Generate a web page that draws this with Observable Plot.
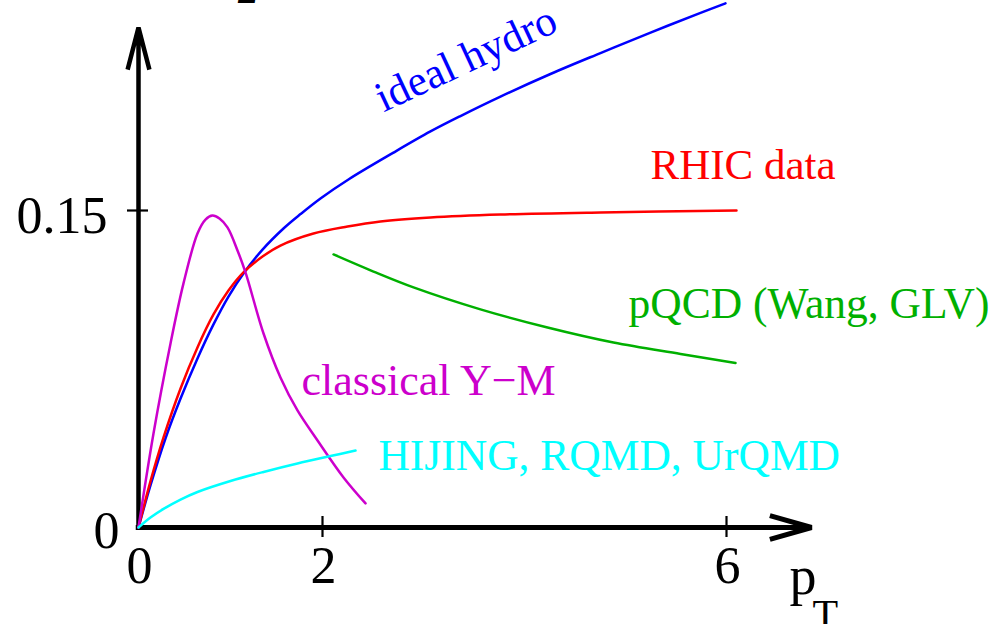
<!DOCTYPE html>
<html>
<head>
<meta charset="utf-8">
<script src="https://cdn.jsdelivr.net/npm/d3@7"></script>
<script src="https://cdn.jsdelivr.net/npm/@observablehq/plot@0.6"></script>
<style>
  html, body { margin: 0; padding: 0; background: #fff; }
  #chart svg { display: block; }
  #chart svg text { font-family: "Liberation Serif", "Times New Roman", serif; }
</style>
</head>
<body>
<div id="chart"></div>
<script>
// ---- data ----
const hydroPt = [0, 0.130, 0.293, 0.457, 0.641, 0.815, 0.978, 1.141, 1.348, 1.576, 1.761, 1.978, 2.257, 2.703, 3.069, 3.366, 3.762, 4.257, 4.752, 5.248, 5.743, 5.990];
const hydroV2 = [0, 0.0199, 0.0421, 0.0610, 0.0800, 0.0961, 0.1093, 0.1202, 0.1315, 0.1415, 0.1483, 0.1557, 0.1647, 0.1774, 0.1874, 0.1947, 0.2039, 0.2146, 0.2245, 0.2342, 0.2435, 0.2480];

const rhicPt = [0, 0.130, 0.272, 0.457, 0.641, 0.815, 0.978, 1.141, 1.348, 1.543, 1.902, 2.248, 2.574, 3.069, 3.762, 4.752, 6.099];
const rhicV2 = [0, 0.0218, 0.0426, 0.0658, 0.0852, 0.1008, 0.1121, 0.1207, 0.1282, 0.1334, 0.1391, 0.1424, 0.1448, 0.1467, 0.1481, 0.1491, 0.1500];

const ymPt = [0, 0.163, 0.348, 0.489, 0.641, 0.728, 0.804, 0.880, 0.967, 1.076, 1.163, 1.359, 1.543, 1.728, 1.946, 2.208, 2.426];
const ymV2 = [0, 0.0445, 0.0871, 0.1155, 0.1391, 0.1457, 0.1476, 0.1462, 0.1420, 0.1311, 0.1207, 0.0918, 0.0710, 0.0554, 0.0412, 0.0237, 0.0114];

const pqcdPt = [2.109, 2.505, 2.901, 3.564, 4.228, 4.881, 5.545, 6.089];
const pqcdV2 = [0.1292, 0.1211, 0.1136, 0.1032, 0.0946, 0.0875, 0.0821, 0.0778];

const hijingPt = [0, 0.130, 0.272, 0.457, 0.641, 1.000, 1.359, 1.728, 2.079, 2.327];
const hijingV2 = [0, 0.0047, 0.0088, 0.0132, 0.0168, 0.0220, 0.0263, 0.0303, 0.0338, 0.0364];

const xTicks = [0, 2, 6];
const xTickLabels = ["0", "2", "6"];
const yTicks = [0, 0.15];
const yTickLabels = ["0", "0.15"];

const seriesNames = ["ideal hydro", "RHIC data", "classical Y\u2212M", "pQCD (Wang, GLV)", "HIJING, RQMD, UrQMD"];
const xAxisEnd = 6.842;
const yAxisEnd = 0.2366;

// ---- build tables ----
const toRows = (xs, ys) => xs.map((x, i) => ({x, y: ys[i]}));
const hydro = toRows(hydroPt, hydroV2);
const rhic = toRows(rhicPt, rhicV2);
const ym = toRows(ymPt, ymV2);
const pqcd = toRows(pqcdPt, pqcdV2);
const hijing = toRows(hijingPt, hijingV2);

const SERIF = "'Liberation Serif', 'Times New Roman', serif";
const C = {blue: "#0000ff", red: "#ff0000", magenta: "#cc00cc", green: "#00b000", cyan: "#00ffff"};
const lineOpts = (stroke) => ({x: "x", y: "y", stroke, strokeWidth: 2.5, curve: "catmull-rom"});
const labelOpts = {fontSize: 43, textAnchor: "start", lineAnchor: "bottom", fontFamily: SERIF};

const chart = Plot.plot({
  width: 1002,
  height: 624,
  margin: 0,
  style: {background: "#fff", overflow: "visible", fontFamily: SERIF},
  x: {type: "linear", domain: [0, 2, 6], range: [138, 322, 726], axis: null},
  y: {type: "linear", domain: [0, 0.15], range: [527, 210], axis: null},
  marks: [
    // axes with arrow heads
    Plot.arrow([0], {x1: 0, y1: 0, x2: 0, y2: yAxisEnd, stroke: "#000", strokeWidth: 4.5, headAngle: 29, headLength: 14.5, strokeLinejoin: "miter", strokeLinecap: "butt"}),
    Plot.arrow([0], {x1: -0.03, y1: 0, x2: xAxisEnd, y2: 0, stroke: "#000", strokeWidth: 5, headAngle: 32, headLength: 13, strokeLinejoin: "miter", strokeLinecap: "butt"}),
    // tick marks
    Plot.ruleX(xTicks.filter(d => d > 0), {x: d => d, y1: 0, y2: 0, insetTop: -11, insetBottom: -10, stroke: "#000", strokeWidth: 2.2}),
    Plot.ruleY(yTicks.filter(d => d > 0), {y: d => d, x1: 0, x2: 0, insetLeft: -11, insetRight: -10, stroke: "#000", strokeWidth: 2.2}),
    // tick labels
    Plot.text(xTicks, {x: d => d, y: 0, text: (d, i) => xTickLabels[i], dy: 55, dx: 1, fontSize: 52, lineAnchor: "bottom", textAnchor: "middle", fill: "#000", fontFamily: SERIF}),
    Plot.text([yTicks[0]], {x: 0, y: d => d, text: () => yTickLabels[0], dx: -19, dy: 20, fontSize: 52, lineAnchor: "bottom", textAnchor: "end", fill: "#000", fontFamily: SERIF}),
    Plot.text([yTicks[1]], {x: 0, y: d => d, text: () => yTickLabels[1], dx: -31, dy: 22, fontSize: 52, lineAnchor: "bottom", textAnchor: "end", fill: "#000", fontFamily: SERIF}),
    // axis titles (v_2 mostly cut off at top, p_T at bottom right)
    Plot.text(["2"], {x: 1.08, y: yAxisEnd, text: d => d, dy: -24, fontSize: 42, fontStyle: "italic", lineAnchor: "bottom", textAnchor: "start", fill: "#000", fontFamily: SERIF}),
    Plot.text(["p"], {x: xAxisEnd, y: 0, text: d => d, dx: -22, dy: 66, fontSize: 54, lineAnchor: "bottom", textAnchor: "start", fill: "#000", fontFamily: SERIF}),
    Plot.text(["T"], {x: xAxisEnd, y: 0, text: d => d, dx: 1, dy: 101, fontSize: 42, lineAnchor: "bottom", textAnchor: "start", fill: "#000", fontFamily: SERIF}),
    // curves
    Plot.line(hydro, lineOpts(C.blue)),
    Plot.line(rhic, lineOpts(C.red)),
    Plot.line(ym, lineOpts(C.magenta)),
    Plot.line(pqcd, lineOpts(C.green)),
    Plot.line(hijing, lineOpts(C.cyan)),
    // curve labels
    Plot.text([seriesNames[0]], {x: 2.604, y: 0.1964, text: d => d, rotate: -25, fill: C.blue, ...labelOpts}),
    Plot.text([seriesNames[1]], {x: 5.248, y: 0.1651, text: d => d, fill: C.red, ...labelOpts}),
    Plot.text([seriesNames[2]], {x: 1.772, y: 0.0625, text: d => d, fill: C.magenta, ...labelOpts, fontSize: 44}),
    Plot.text([seriesNames[3]], {x: 5.030, y: 0.0989, text: d => d, fill: C.green, ...labelOpts, fontSize: 43.5}),
    Plot.text([seriesNames[4]], {x: 2.554, y: 0.0270, text: d => d, fill: C.cyan, ...labelOpts, fontSize: 43.5})
  ]
});
document.getElementById("chart").appendChild(chart);
</script>
</body>
</html>
